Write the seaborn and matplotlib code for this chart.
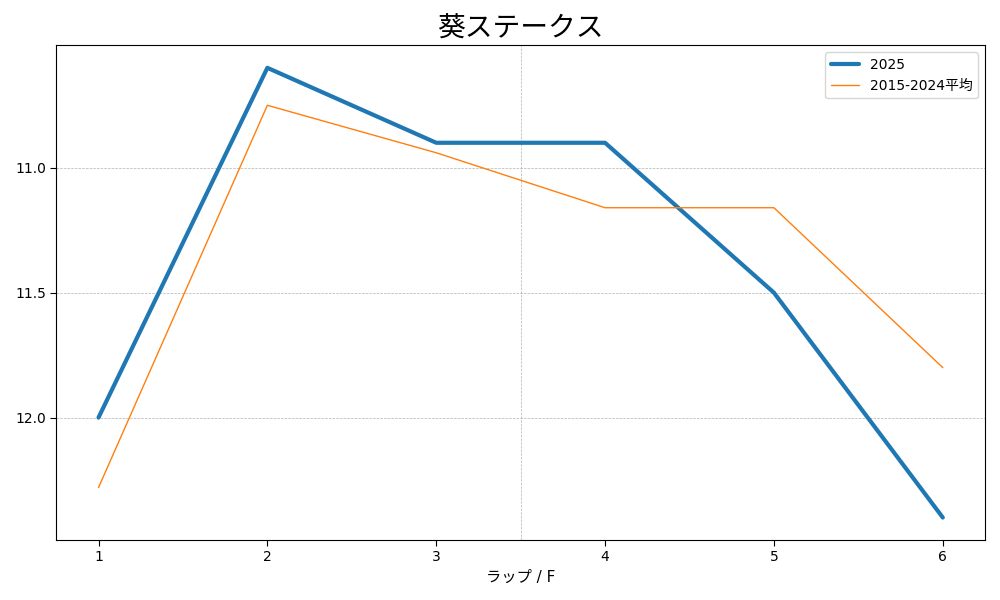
import matplotlib
matplotlib.use("Agg")
import matplotlib.pyplot as plt
import pandas as pd
import seaborn as sns

# lap numbers and lap times (seconds per furlong)
laps = [1, 2, 3, 4, 5, 6]
times_2025 = [12.0, 10.6, 10.9, 10.9, 11.5, 12.4]
times_avg = [12.28, 10.75, 10.94, 11.16, 11.16, 11.8]
series_names = ["2025", "2015-2024平均"]
y_ticks = [11.0, 11.5, 12.0]

sns.set_style("white", {"text.color": "black", "axes.labelcolor": "black",
                        "xtick.color": "black", "ytick.color": "black"})
plt.rcParams['font.family'] = ['DejaVu Sans', 'Noto Sans CJK JP']

df = pd.DataFrame({"lap": laps * 2,
                   "time": times_2025 + times_avg,
                   "series": [series_names[0]] * 6 + [series_names[1]] * 6})

fig, ax = plt.subplots(figsize=(10, 6), dpi=100)
sns.lineplot(data=df, x="lap", y="time", hue="series", size="series",
             sizes={series_names[0]: 3, series_names[1]: 1},
             palette=["#1f77b4", "#ff7f0e"], ax=ax)

ax.invert_yaxis()
ax.set_yticks(y_ticks)
ax.set_yticklabels([f"{v:.1f}" for v in y_ticks])
ax.set_xticks(laps)
ax.grid(axis="y", linestyle="--", linewidth=0.5, color="gray", alpha=0.6)
ax.axvline(3.5, linestyle="--", linewidth=0.5, color="gray", alpha=0.6, zorder=0)
ax.tick_params(axis="both", direction="out", length=4, left=True, bottom=True)
for s in ax.spines.values():
    s.set_color("black")

ax.set_title("葵ステークス", fontsize=20, color="black")
ax.set_xlabel("ラップ / F", fontsize=11)
ax.set_ylabel("")
ax.legend(title=None, loc="upper right")

plt.tight_layout()
plt.savefig("out.png")
